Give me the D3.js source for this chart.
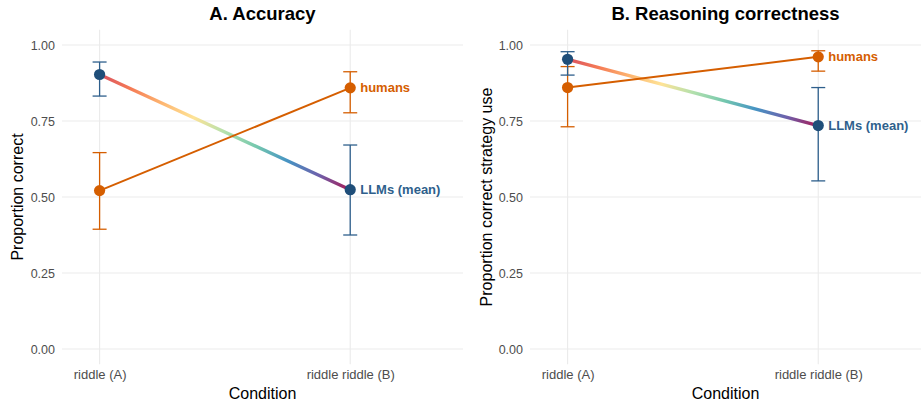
<!DOCTYPE html>
<html><head><meta charset="utf-8">
<script src="https://cdn.jsdelivr.net/npm/d3@7"></script>
<style>body{margin:0;background:#fff}svg{display:block;font-family:"Liberation Sans",Arial,Helvetica,sans-serif}</style>
</head><body>
<svg id="chart" width="923" height="406"></svg>
<script>
const categories = ["riddle (A)", "riddle riddle (B)"];
const panelTitles = ["A. Accuracy", "B. Reasoning correctness"];
const yTitles = ["Proportion correct", "Proportion correct strategy use"];
const xTitle = "Condition";
const yTicks = [0, 0.25, 0.5, 0.75, 1.0];
const seriesNames = ["humans", "LLMs (mean)"];

// Panel A: Accuracy
const accHumans   = [0.521, 0.859];
const accHumansLo = [0.394, 0.777];
const accHumansHi = [0.646, 0.912];
const accLLM      = [0.903, 0.524];
const accLLMLo    = [0.832, 0.375];
const accLLMHi    = [0.944, 0.671];
// Panel B: Reasoning correctness
const reaHumans   = [0.860, 0.961];
const reaHumansLo = [0.731, 0.914];
const reaHumansHi = [0.929, 0.981];
const reaLLM      = [0.953, 0.735];
const reaLLMLo    = [0.901, 0.553];
const reaLLMHi    = [0.978, 0.860];

const gradColors = ["#d53e4f","#f46d43","#fdae61","#fee08b","#abdda4","#66c2a5","#3288bd","#5e4fa2","#9e0142"];
const humanColor = "#d55e00";
const llmColor = "#1f4e79";
const llmBarColor = "#2e5f8c";

const panels = [
  {title: panelTitles[0], yTitle: yTitles[0], x0: 62, x1: 463, xDomain: [0.85, 2.45], yTitleX: 17,
   h: accHumans, hLo: accHumansLo, hHi: accHumansHi, l: accLLM, lLo: accLLMLo, lHi: accLLMHi},
  {title: panelTitles[1], yTitle: yTitles[1], x0: 530, x1: 921, xDomain: [0.85, 2.41], yTitleX: 486,
   h: reaHumans, hLo: reaHumansLo, hHi: reaHumansHi, l: reaLLM, lLo: reaLLMLo, lHi: reaLLMHi}
];

const svg = d3.select("#chart");
const defs = svg.append("defs");
const yTop = 29.8, yBot = 364.2;
const FF = "Liberation Sans, Arial, sans-serif";

panels.forEach((p, pi) => {
  const x = d3.scaleLinear().domain(p.xDomain).range([p.x0, p.x1]);
  const y = d3.scaleLinear().domain([-0.05, 1.05]).range([yBot, yTop]);
  const g = svg.append("g");
  const idx = categories.map((c, i) => i + 1);

  // gridlines
  g.append("g").selectAll("line").data(yTicks).join("line")
    .attr("x1", p.x0).attr("x2", p.x1).attr("y1", d => y(d)).attr("y2", d => y(d))
    .attr("stroke", "#ebebeb").attr("stroke-width", 1.1);
  g.append("g").selectAll("line").data(idx).join("line")
    .attr("x1", d => x(d)).attr("x2", d => x(d)).attr("y1", yTop).attr("y2", yBot)
    .attr("stroke", "#ebebeb").attr("stroke-width", 1.1);

  // axes
  const yAxis = d3.axisLeft(y).tickValues(yTicks).tickFormat(d3.format(".2f")).tickSize(0).tickPadding(7);
  const ya = g.append("g").attr("transform", `translate(${p.x0},0)`).call(yAxis)
    .attr("font-size", 12.5).attr("font-family", FF).attr("color", "#4d4d4d");
  ya.select(".domain").remove();
  ya.selectAll("text").attr("fill", "#4d4d4d");

  const xAxis = d3.axisBottom(x).tickValues(idx).tickFormat(d => categories[d - 1]).tickSize(0).tickPadding(6);
  const xa = g.append("g").attr("transform", `translate(0,${yBot})`).call(xAxis)
    .attr("font-size", 13).attr("font-family", FF).attr("color", "#4d4d4d");
  xa.select(".domain").remove();
  xa.selectAll("text").attr("fill", "#4d4d4d");

  // titles
  g.append("text").attr("x", (p.x0 + p.x1) / 2).attr("y", 20).attr("text-anchor", "middle")
    .attr("font-size", 18.5).attr("font-weight", "bold").attr("fill", "#000").text(p.title);
  g.append("text").attr("x", (p.x0 + p.x1) / 2).attr("y", 399).attr("text-anchor", "middle")
    .attr("font-size", 16).attr("fill", "#000").text(xTitle);
  g.append("text").attr("transform", `translate(${p.yTitleX},${y(0.5)}) rotate(-90)`).attr("text-anchor", "middle")
    .attr("dy", "0.35em").attr("font-size", 16).attr("fill", "#000").text(p.yTitle);

  // gradient LLM line
  const gid = "grad" + pi;
  const lg = defs.append("linearGradient").attr("id", gid).attr("gradientUnits", "userSpaceOnUse")
    .attr("x1", x(1)).attr("y1", y(p.l[0])).attr("x2", x(2)).attr("y2", y(p.l[1]));
  lg.selectAll("stop").data(gradColors).join("stop")
    .attr("offset", (d, i) => i / (gradColors.length - 1)).attr("stop-color", d => d);
  const line = d3.line().x((d, i) => x(i + 1)).y(d => y(d));
  g.append("path").datum(p.l).attr("d", line).attr("fill", "none")
    .attr("stroke", `url(#${gid})`).attr("stroke-width", 3.4).attr("stroke-opacity", 0.9);

  // humans line
  g.append("path").datum(p.h).attr("d", line).attr("fill", "none")
    .attr("stroke", humanColor).attr("stroke-width", 2);

  // error bars
  const drawErr = (mean, lo, hi, color) => {
    const eb = g.append("g").attr("stroke", color).attr("stroke-width", 1.3);
    mean.forEach((m, i) => {
      const cx = x(i + 1);
      eb.append("line").attr("x1", cx).attr("x2", cx).attr("y1", y(lo[i])).attr("y2", y(hi[i]));
      eb.append("line").attr("x1", cx - 7).attr("x2", cx + 7).attr("y1", y(lo[i])).attr("y2", y(lo[i]));
      eb.append("line").attr("x1", cx - 7).attr("x2", cx + 7).attr("y1", y(hi[i])).attr("y2", y(hi[i]));
    });
  };
  drawErr(p.h, p.hLo, p.hHi, humanColor);
  drawErr(p.l, p.lLo, p.lHi, llmBarColor);

  // points
  g.append("g").selectAll("circle").data(p.h).join("circle")
    .attr("cx", (d, i) => x(i + 1)).attr("cy", d => y(d)).attr("r", 5.6).attr("fill", humanColor);
  g.append("g").selectAll("circle").data(p.l).join("circle")
    .attr("cx", (d, i) => x(i + 1)).attr("cy", d => y(d)).attr("r", 5.6).attr("fill", llmColor);

  // labels
  g.append("text").attr("x", x(2) + 10).attr("y", y(p.h[1])).attr("dy", "0.35em")
    .attr("font-size", 13).attr("font-weight", "bold").attr("fill", humanColor).text(seriesNames[0]);
  g.append("text").attr("x", x(2) + 10).attr("y", y(p.l[1])).attr("dy", "0.35em")
    .attr("font-size", 13).attr("font-weight", "bold").attr("fill", llmBarColor).text(seriesNames[1]);
});
</script>
</body></html>
